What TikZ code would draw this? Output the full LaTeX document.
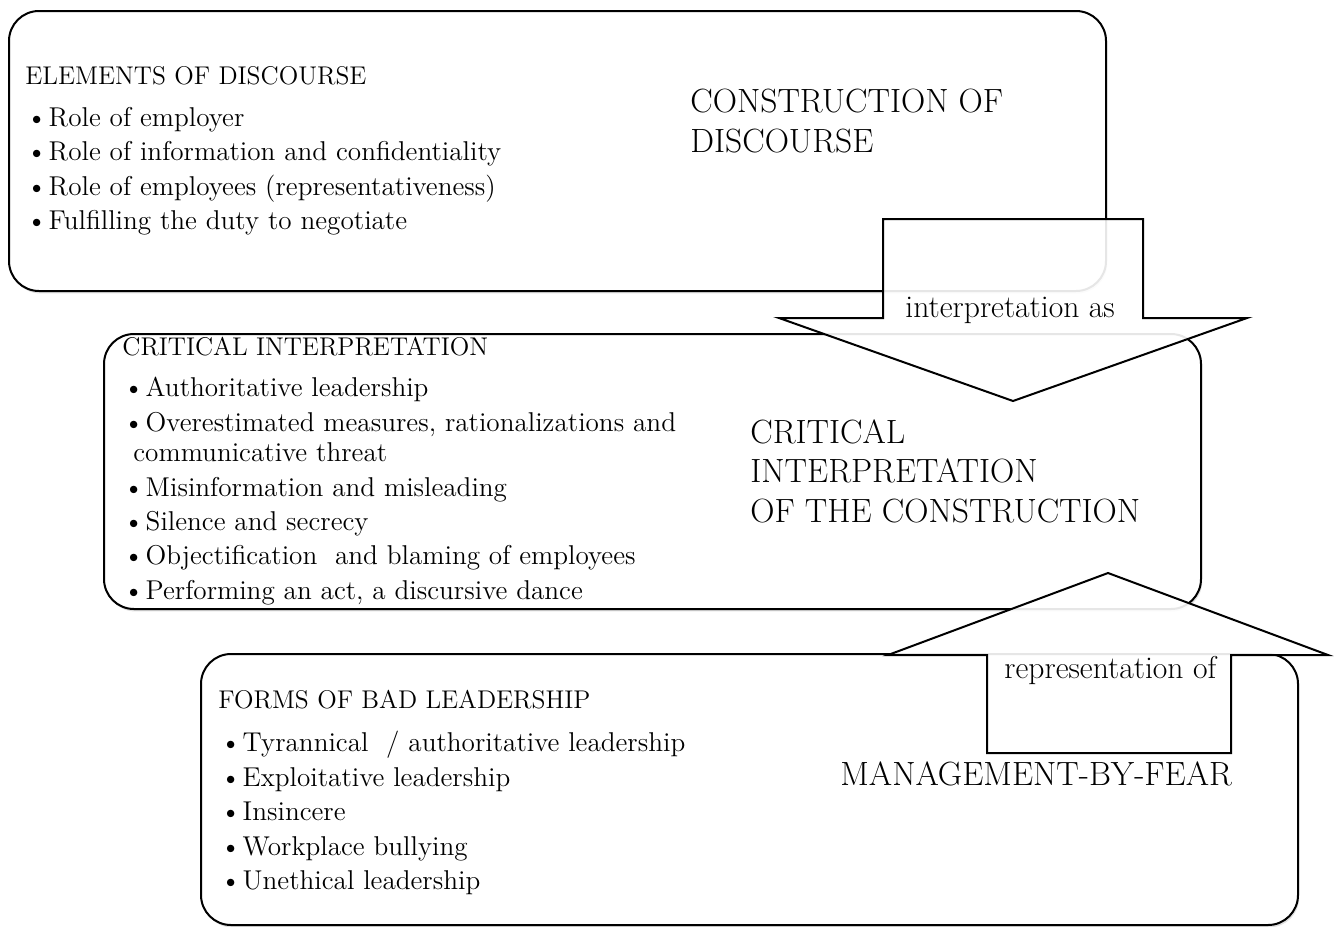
\documentclass[tikz,border=0pt]{standalone}
\usetikzlibrary{shadows}

\newcommand{\bulletitem}{\textbullet\hspace{0.8pt}}

\tikzset{
    panel/.style={draw, line width=1pt, rounded corners=15pt, fill=white,
        drop shadow={opacity=0.25, shadow xshift=0.6pt, shadow yshift=-1.2pt},
        anchor=north west, inner sep=0pt},
    blockarrow/.style={draw, line width=1pt, fill=white, fill opacity=0.9, line join=miter},
    paneltitle/.style={anchor=base west, inner sep=0pt,
        font=\fontsize{12.8}{17}\selectfont},
    listtext/.style={anchor=north west, inner sep=0pt, align=left,
        font=\fontsize{13.6}{17.2}\selectfont},
    biglabel/.style={anchor=north west, inner sep=0pt, align=left,
        font=\fontsize{16.8}{19.8}\selectfont},
    arrowlabel/.style={anchor=base west, inner sep=0pt,
        font=\fontsize{15.8}{17}\selectfont}
}

\begin{document}
\begin{tikzpicture}[x=0.5pt, y=-0.5pt]
        \useasboundingbox (0,0) rectangle (1336,926);

        % Define boxes
        \node[panel, minimum width=548.5pt, minimum height=140pt] (construction) at (8,10) {};
        \node[panel, minimum width=548.5pt, minimum height=137.5pt] (critical) at (103,333) {};
        \node[panel, minimum width=548.5pt, minimum height=135.5pt] (forms) at (200,653) {};

        % Define texts
        \node[paneltitle] (elementstitle) at (25,84) {ELEMENTS OF DISCOURSE};
        \node[listtext] (elements) at (26,107) {\bulletitem Role of employer\\
            \bulletitem Role of information and confidentiality\\
            \bulletitem Role of employees (representativeness)\\
            \bulletitem Fulfilling the duty to negotiate};
        \node[biglabel] (constructionlabel) at (690,89) {CONSTRUCTION OF\\DISCOURSE};

        \node[paneltitle] (interpretationtitle) at (122,355) {CRITICAL INTERPRETATION};
        \node[listtext] (interpretation) at (123,377) {\bulletitem Authoritative leadership\\
            \bulletitem Overestimated measures, rationalizations and\\[-2pt]
            \hspace*{5pt}communicative threat\\
            \bulletitem Misinformation and misleading\\
            \bulletitem Silence and secrecy\\
            \bulletitem Objectification\ \ and blaming of employees\\
            \bulletitem Performing an act, a discursive dance};
        \node[biglabel] (criticallabel) at (750,419) {CRITICAL\\INTERPRETATION\\OF THE CONSTRUCTION};

        \node[paneltitle] (badleadershiptitle) at (218,708) {FORMS OF BAD LEADERSHIP};
        \node[listtext] (badleadership) at (220,731) {\bulletitem Tyrannical\ \ / authoritative leadership\\
            \bulletitem Exploitative leadership\\
            \bulletitem Insincere\\
            \bulletitem Workplace bullying\\
            \bulletitem Unethical leadership};
        \node[biglabel, anchor=base west] (fearlabel) at (840,785) {MANAGEMENT-BY-FEAR};

        % Draw block arrows
        \draw[blockarrow] (883,219) -- (1143,219) -- (1143,318) -- (1247,318)
            -- (1013,401) -- (779,318) -- (883,318) -- cycle;
        \node[arrowlabel] (interpretationas) at (905,317) {interpretation as};

        \draw[blockarrow] (987,753) -- (987,655) -- (888,655) -- (1108,573)
            -- (1328,655) -- (1231,655) -- (1231,753) -- cycle;
        \node[arrowlabel] (representationof) at (1004,678) {representation of};
    \end{tikzpicture}
\end{document}
